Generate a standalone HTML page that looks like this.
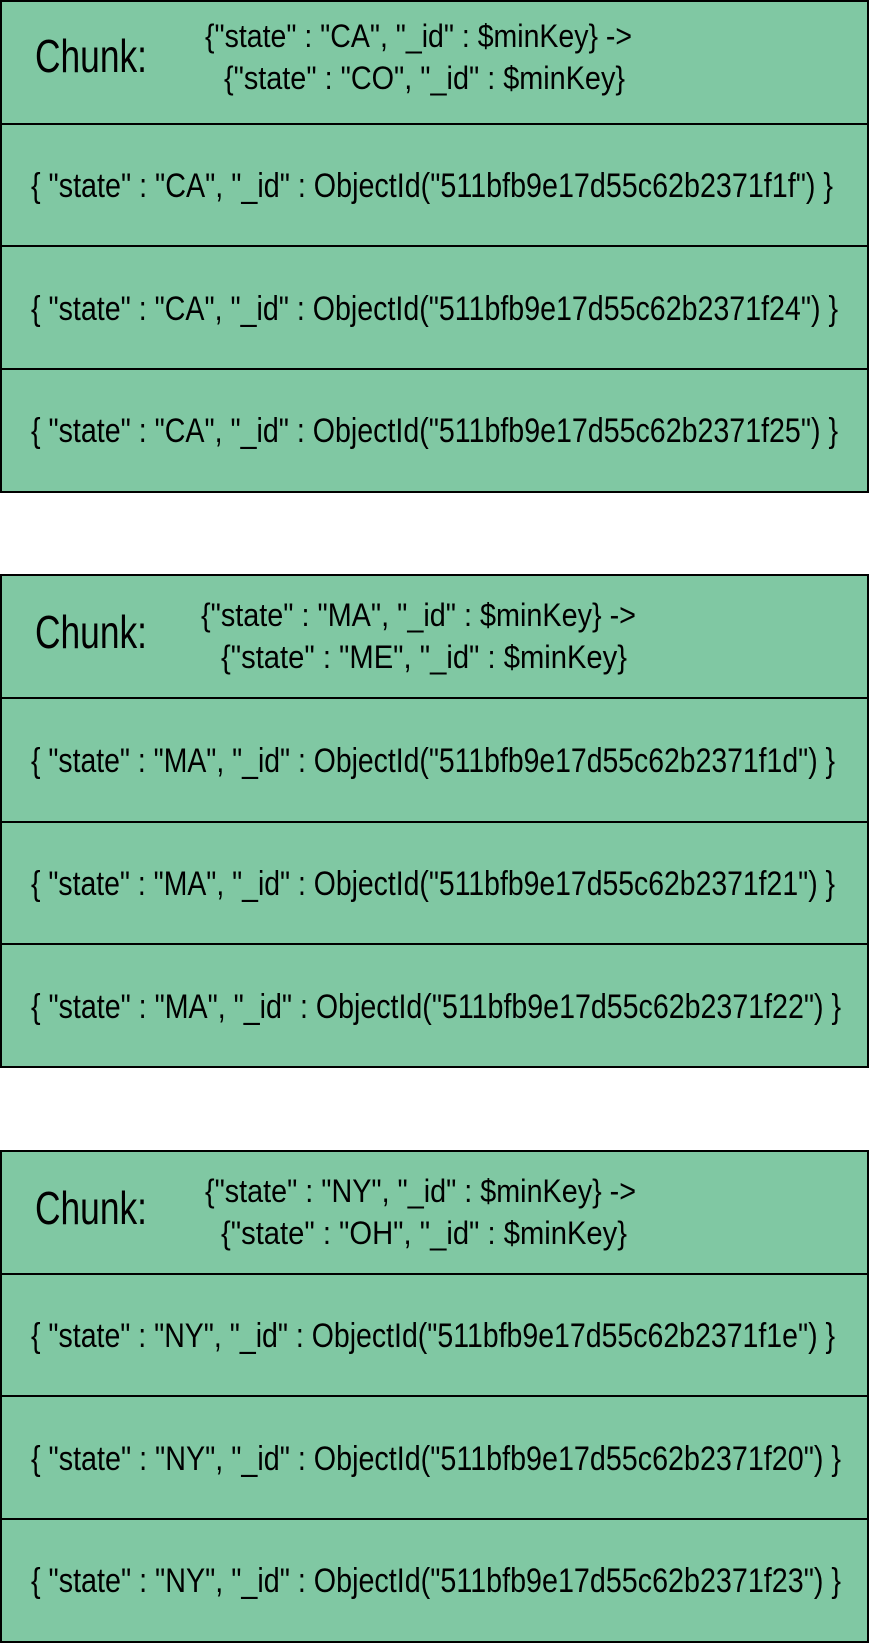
<!DOCTYPE html>
<html><head><meta charset="utf-8"><style>
html,body{margin:0;padding:0;background:#fff;}
svg{display:block;}
text{font-family:"Liberation Sans",sans-serif;fill:#000;}
</style></head><body>
<svg width="869" height="1644" viewBox="0 0 869 1644" xmlns="http://www.w3.org/2000/svg">
<g stroke="#000" stroke-width="2" fill="#80c8a3">
<rect x="1" y="1" width="867" height="491"/>
<line x1="1" y1="124" x2="868" y2="124"/><line x1="1" y1="246" x2="868" y2="246"/><line x1="1" y1="369" x2="868" y2="369"/>
<rect x="1" y="575" width="867" height="492"/>
<line x1="1" y1="698" x2="868" y2="698"/><line x1="1" y1="822" x2="868" y2="822"/><line x1="1" y1="944" x2="868" y2="944"/>
<rect x="1" y="1151" width="867" height="491"/>
<line x1="1" y1="1274" x2="868" y2="1274"/><line x1="1" y1="1396" x2="868" y2="1396"/><line x1="1" y1="1519" x2="868" y2="1519"/>
</g>
<g font-size="46">
<text x="35" y="72" textLength="112" lengthAdjust="spacingAndGlyphs">Chunk:</text>
<text x="35" y="648" textLength="112" lengthAdjust="spacingAndGlyphs">Chunk:</text>
<text x="35" y="1224" textLength="112" lengthAdjust="spacingAndGlyphs">Chunk:</text>
</g>
<g font-size="32">
<text x="205" y="47" textLength="427" lengthAdjust="spacingAndGlyphs">{"state" : "CA", "_id" : $minKey} -&gt;</text>
<text x="224" y="89" textLength="401" lengthAdjust="spacingAndGlyphs">{"state" : "CO", "_id" : $minKey}</text>
<text x="201" y="626" textLength="435" lengthAdjust="spacingAndGlyphs">{"state" : "MA", "_id" : $minKey} -&gt;</text>
<text x="221" y="668" textLength="406" lengthAdjust="spacingAndGlyphs">{"state" : "ME", "_id" : $minKey}</text>
<text x="205" y="1202" textLength="431" lengthAdjust="spacingAndGlyphs">{"state" : "NY", "_id" : $minKey} -&gt;</text>
<text x="221" y="1244" textLength="406" lengthAdjust="spacingAndGlyphs">{"state" : "OH", "_id" : $minKey}</text>
</g>
<g font-size="34">
<text x="31" y="197" textLength="802" lengthAdjust="spacingAndGlyphs">{ "state" : "CA", "_id" : ObjectId("511bfb9e17d55c62b2371f1f") }</text>
<text x="31" y="320" textLength="807" lengthAdjust="spacingAndGlyphs">{ "state" : "CA", "_id" : ObjectId("511bfb9e17d55c62b2371f24") }</text>
<text x="31" y="442" textLength="807" lengthAdjust="spacingAndGlyphs">{ "state" : "CA", "_id" : ObjectId("511bfb9e17d55c62b2371f25") }</text>
<text x="31" y="772" textLength="804" lengthAdjust="spacingAndGlyphs">{ "state" : "MA", "_id" : ObjectId("511bfb9e17d55c62b2371f1d") }</text>
<text x="31" y="895" textLength="804" lengthAdjust="spacingAndGlyphs">{ "state" : "MA", "_id" : ObjectId("511bfb9e17d55c62b2371f21") }</text>
<text x="31" y="1018" textLength="810" lengthAdjust="spacingAndGlyphs">{ "state" : "MA", "_id" : ObjectId("511bfb9e17d55c62b2371f22") }</text>
<text x="31" y="1347" textLength="804" lengthAdjust="spacingAndGlyphs">{ "state" : "NY", "_id" : ObjectId("511bfb9e17d55c62b2371f1e") }</text>
<text x="31" y="1470" textLength="810" lengthAdjust="spacingAndGlyphs">{ "state" : "NY", "_id" : ObjectId("511bfb9e17d55c62b2371f20") }</text>
<text x="31" y="1592" textLength="810" lengthAdjust="spacingAndGlyphs">{ "state" : "NY", "_id" : ObjectId("511bfb9e17d55c62b2371f23") }</text>
</g>
</svg>
</body></html>
